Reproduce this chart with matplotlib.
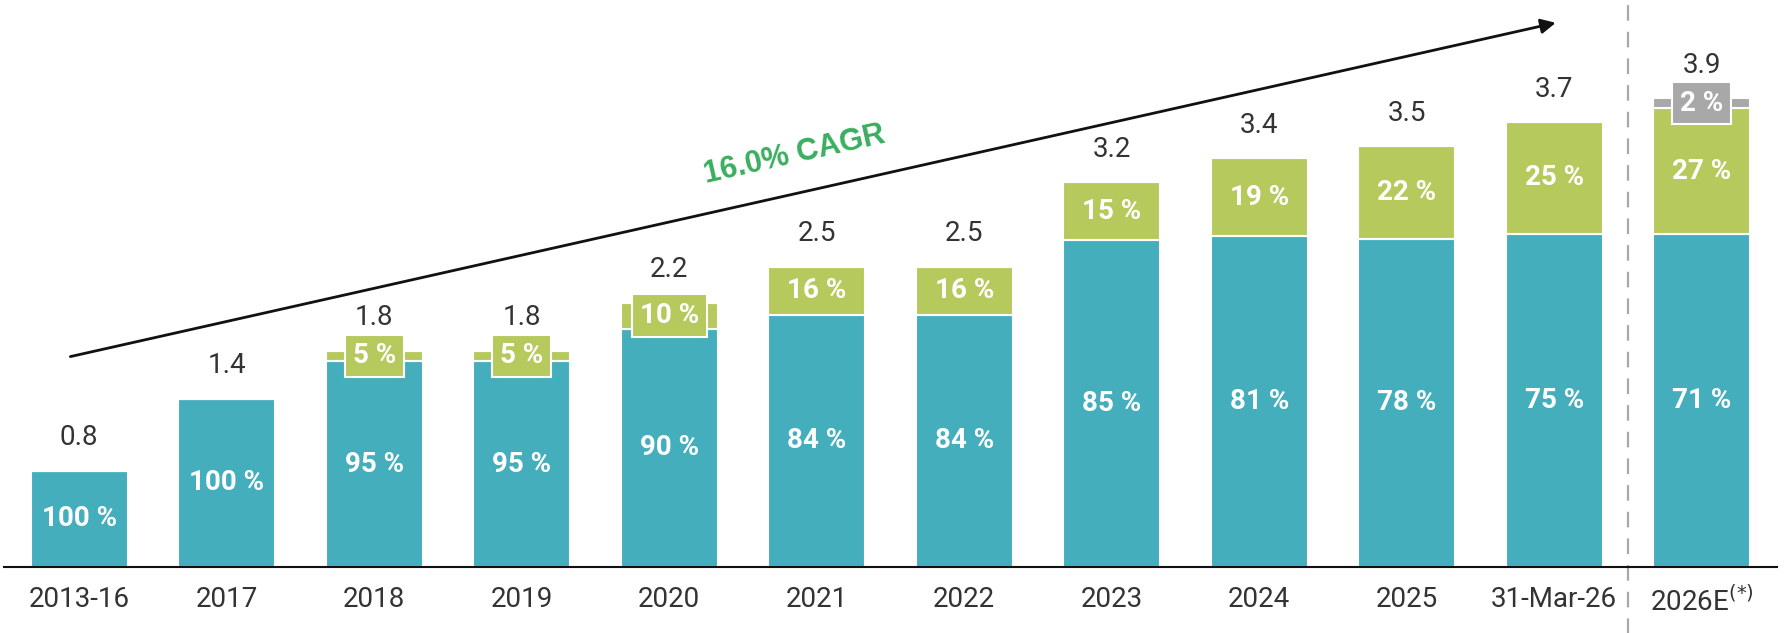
import numpy as np
import matplotlib
matplotlib.use("Agg")
import matplotlib.pyplot as plt

# data
labels = ["2013-16", "2017", "2018", "2019", "2020", "2021", "2022",
          "2023", "2024", "2025", "31-Mar-26", "2026E$^{(*)}$"]
totals = [0.8, 1.4, 1.8, 1.8, 2.2, 2.5, 2.5, 3.2, 3.4, 3.5, 3.7, 3.9]
teal_pct = [100, 100, 95, 95, 90, 84, 84, 85, 81, 78, 75, 71]
green_pct = [0, 0, 5, 5, 10, 16, 16, 15, 19, 22, 25, 27]
grey_pct = [0, 0, 0, 0, 0, 0, 0, 0, 0, 0, 0, 2]
cagr_label = "16.0% CAGR"

TEAL = "#45aebd"
GREEN = "#b6c95c"
GREY = "#a8a8a8"
TXT = "#333333"

plt.rcParams['font.family'] = ['Roboto', 'DejaVu Sans']

fig = plt.figure(figsize=(17.86, 6.33), dpi=100)
ax = fig.add_axes([4 / 1786, 66.3 / 633, (1777 - 4) / 1786, 566.7 / 633])

x = np.arange(len(labels))
tot = np.array(totals)
teal = tot * np.array(teal_pct) / 100
green = tot * np.array(green_pct) / 100
grey = tot * np.array(grey_pct) / 100

w = 0.66
ax.bar(x, teal, w, color=TEAL, edgecolor="white", linewidth=1.5)
ax.bar(x, green, w, bottom=teal, color=GREEN, edgecolor="white", linewidth=1.5)
ax.bar(x, grey, w, bottom=teal + green, color=GREY, edgecolor="white", linewidth=1.5)

for i in range(len(labels)):
    # teal label
    ax.text(x[i], teal[i] / 2, f"{teal_pct[i]} %", ha="center", va="center",
            color="white", fontsize=20, fontweight="bold")
    for pct, seg, base, col in [(green_pct[i], green[i], teal[i], GREEN),
                                (grey_pct[i], grey[i], teal[i] + green[i], GREY)]:
        if pct == 0:
            continue
        yc = base + seg / 2
        if pct <= 10:
            ax.text(x[i], yc, f"{pct} %", ha="center", va="center", color="white",
                    fontsize=20, fontweight="bold",
                    bbox=dict(boxstyle="square,pad=0.28", fc=col, ec="white", lw=1.5))
        else:
            ax.text(x[i], yc, f"{pct} %", ha="center", va="center",
                    color="white", fontsize=20, fontweight="bold")
    ax.annotate(f"{totals[i]:.1f}", (x[i], tot[i]), xytext=(0, 24),
                textcoords="offset points", ha="center", va="center",
                fontsize=20, color=TXT)

# CAGR arrow
ax.annotate("", xy=(10.01, 4.53), xytext=(-0.06, 1.75),
            arrowprops=dict(arrowstyle="-|>", lw=2, color="#111111",
                            mutation_scale=22, shrinkA=0, shrinkB=0))
ax.text(4.85, 3.43, cagr_label, rotation=12.7, rotation_mode="anchor",
        ha="center", va="center", color="#3aae5e", fontsize=22,
        fontweight="bold", family="Liberation Sans")

# dashed separator
ax.plot([10.5, 10.5], [-0.6, 4.72], color=GREY, lw=1.6, ls=(0, (7, 5)),
        clip_on=False)

ax.set_xlim(-0.51, 11.51)
ax.set_ylim(0, 4.72)
ax.set_xticks(x)
ax.set_xticklabels(labels, fontsize=20, color=TXT)
ax.tick_params(axis="x", length=0, pad=14)
ax.set_yticks([])
for s in ["top", "right", "left"]:
    ax.spines[s].set_visible(False)
ax.spines["bottom"].set_color("#111111")
ax.spines["bottom"].set_linewidth(1.5)

fig.savefig("out.png", dpi=100)
